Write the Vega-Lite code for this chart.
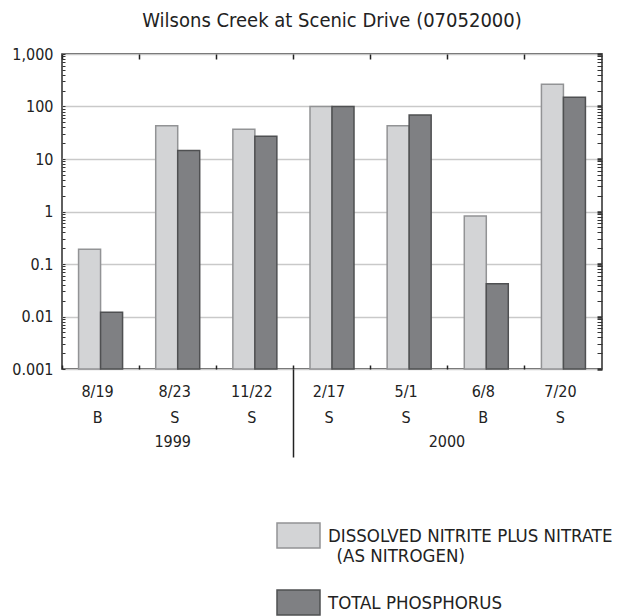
{
  "$schema": "https://vega.github.io/schema/vega-lite/v6.json",
  "width": 540,
  "height": 315,
  "autosize": {"type": "none"},
  "padding": {"left": 62, "top": 54, "right": 15, "bottom": 247},
  "title": {
    "text": "Wilsons Creek at Scenic Drive (07052000)",
    "font": "DejaVu Sans Condensed, Liberation Sans",
    "fontSize": 20,
    "fontWeight": "normal",
    "color": "#222222",
    "anchor": "middle",
    "frame": "group",
    "baseline": "alphabetic",
    "offset": -1
  },
  "config": {
    "font": "DejaVu Sans Condensed, Liberation Sans",
    "view": {"stroke": "#2b2b2b", "strokeWidth": 1.5}
  },
  "data": {
    "values": [
      {"sample": "8/19|B|1999", "param": "DISSOLVED NITRITE PLUS NITRATE (AS NITROGEN)", "value": 0.19},
      {"sample": "8/19|B|1999", "param": "TOTAL PHOSPHORUS", "value": 0.012},
      {"sample": "8/23|S|1999", "param": "DISSOLVED NITRITE PLUS NITRATE (AS NITROGEN)", "value": 43},
      {"sample": "8/23|S|1999", "param": "TOTAL PHOSPHORUS", "value": 14.5},
      {"sample": "11/22|S|1999", "param": "DISSOLVED NITRITE PLUS NITRATE (AS NITROGEN)", "value": 37},
      {"sample": "11/22|S|1999", "param": "TOTAL PHOSPHORUS", "value": 27},
      {"sample": "2/17|S|2000", "param": "DISSOLVED NITRITE PLUS NITRATE (AS NITROGEN)", "value": 100},
      {"sample": "2/17|S|2000", "param": "TOTAL PHOSPHORUS", "value": 100},
      {"sample": "5/1|S|2000", "param": "DISSOLVED NITRITE PLUS NITRATE (AS NITROGEN)", "value": 43},
      {"sample": "5/1|S|2000", "param": "TOTAL PHOSPHORUS", "value": 69},
      {"sample": "6/8|B|2000", "param": "DISSOLVED NITRITE PLUS NITRATE (AS NITROGEN)", "value": 0.82},
      {"sample": "6/8|B|2000", "param": "TOTAL PHOSPHORUS", "value": 0.042},
      {"sample": "7/20|S|2000", "param": "DISSOLVED NITRITE PLUS NITRATE (AS NITROGEN)", "value": 265},
      {"sample": "7/20|S|2000", "param": "TOTAL PHOSPHORUS", "value": 150}
    ]
  },
  "layer": [
    {
      "mark": {"type": "bar", "strokeWidth": 1.5},
      "encoding": {
        "x": {
          "field": "sample", "type": "nominal", "sort": null,
          "scale": {"paddingInner": 0, "paddingOuter": 0},
          "axis": {
            "orient": "bottom", "title": null, "domain": false,
            "labelExpr": "slice(split(datum.label, '|'), 0, 2)",
            "labelAngle": 0, "labelFontSize": 16, "labelColor": "#222222",
            "labelLineHeight": 26, "labelBaseline": "top", "labelPadding": 18,
            "labelOffset": -3,
            "ticks": true, "bandPosition": 0, "tickSize": -4,
            "tickColor": "#222222", "tickWidth": 1.5
          }
        },
        "xOffset": {"field": "param", "type": "nominal", "sort": null, "scale": {"paddingInner": 0, "paddingOuter": 0.753}},
        "y": {
          "field": "value", "type": "quantitative",
          "scale": {"type": "log", "domain": [0.001, 1000], "nice": false},
          "axis": {
            "orient": "left", "title": null, "domain": false,
            "values": [0.001,0.002,0.003,0.004,0.005,0.006,0.007,0.008,0.009,0.01,0.02,0.03,0.04,0.05,0.06,0.07,0.08,0.09,0.1,0.2,0.3,0.4,0.5,0.6,0.7,0.8,0.9,1,2,3,4,5,6,7,8,9,10,20,30,40,50,60,70,80,90,100,200,300,400,500,600,700,800,900,1000],
            "format": ",",
            "labelExpr": "abs(log(datum.value)/LN10 - round(log(datum.value)/LN10)) < 0.001 ? datum.label : ''",
            "labelFontSize": 16, "labelColor": "#222222", "labelPadding": 12,
            "grid": true, "gridColor": "#c9c9c9", "gridWidth": 1.3,
            "gridOpacity": {"condition": {"test": "abs(log(datum.value)/LN10 - round(log(datum.value)/LN10)) < 0.001", "value": 1}, "value": 0},
            "tickSize": -3, "tickColor": "#333333", "tickWidth": 1
          }
        },
        "y2": {"datum": 0.001},
        "fill": {
          "field": "param", "type": "nominal", "sort": null,
          "scale": {"range": ["#d3d4d6", "#7f8083"]},
          "legend": {
            "orient": "none", "legendX": 214, "legendY": 459,
            "title": null, "padding": 0,
            "symbolType": "M-1,-0.58H1V0.58H-1Z", "symbolSize": 1849,
            "symbolStrokeColor": "#7a7a7a", "symbolStrokeWidth": 1.5,
            "labelFont": "DejaVu Sans Condensed, Liberation Sans",
            "labelFontSize": 18.5, "labelColor": "#222222", "labelOffset": 7,
            "labelLimit": 400,
            "labelExpr": "split(replace(datum.label, ' (', '|\u200b\u00a0\u2009('), '|')",
            "labelBaseline": "top", "labelLineHeight": 20,
            "rowPadding": 14,
            "encode": {"labels": {"update": {"dy": {"value": -9}}}}
          }
        },
        "stroke": {
          "field": "param", "type": "nominal", "sort": null,
          "scale": {"range": ["#929395", "#4f5052"]},
          "legend": null
        }
      }
    },
    {
      "mark": {"type": "bar", "opacity": 0},
      "encoding": {
        "x": {
          "field": "sample", "type": "nominal", "sort": null,
          "scale": {"paddingInner": 0, "paddingOuter": 0},
          "axis": {
            "orient": "top", "title": null, "domain": false, "labels": false,
            "ticks": true, "bandPosition": 0, "tickSize": -5,
            "tickColor": "#222222", "tickWidth": 1.5
          }
        },
        "y": {
          "field": "value", "type": "quantitative",
          "scale": {"type": "log", "domain": [0.001, 1000], "nice": false},
          "axis": {
            "orient": "right", "title": null, "domain": false, "labels": false, "grid": false,
            "values": [0.001,0.002,0.003,0.004,0.005,0.006,0.007,0.008,0.009,0.01,0.02,0.03,0.04,0.05,0.06,0.07,0.08,0.09,0.1,0.2,0.3,0.4,0.5,0.6,0.7,0.8,0.9,1,2,3,4,5,6,7,8,9,10,20,30,40,50,60,70,80,90,100,200,300,400,500,600,700,800,900,1000],
            "tickSize": -5, "tickColor": "#333333",
            "tickWidth": {"condition": {"test": "abs(log(datum.value)/LN10 - round(log(datum.value)/LN10)) < 0.001", "value": 2.5}, "value": 1}
          }
        }
      }
    },
    {
      "mark": {"type": "bar", "opacity": 0},
      "encoding": {
        "x": {
          "field": "sample", "type": "nominal", "sort": null,
          "scale": {"paddingInner": 0, "paddingOuter": 0},
          "axis": {
            "orient": "bottom", "title": null, "domain": false, "ticks": false,
            "values": ["8/23|S|1999", "5/1|S|2000"],
            "labelExpr": "split(datum.label, '|')[2]",
            "labelAngle": 0, "labelFontSize": 16, "labelColor": "#222222",
            "labelBaseline": "top", "labelPadding": 64,
            "labelOffset": {"condition": {"test": "datum.value === '5/1|S|2000'", "value": 37.8}, "value": -5}
          }
        },
        "y": {
          "field": "value", "type": "quantitative",
          "scale": {"type": "log", "domain": [0.001, 1000], "nice": false},
          "axis": null
        }
      }
    },
    {
      "mark": {"type": "bar", "opacity": 0},
      "encoding": {
        "x": {
          "field": "sample", "type": "nominal", "sort": null,
          "scale": {"paddingInner": 0, "paddingOuter": 0},
          "axis": {
            "orient": "bottom", "title": null, "domain": false, "labels": false,
            "values": ["11/22|S|1999"],
            "ticks": true, "bandPosition": 1, "tickSize": 88,
            "tickColor": "#222222", "tickWidth": 1.5
          }
        },
        "y": {
          "field": "value", "type": "quantitative",
          "scale": {"type": "log", "domain": [0.001, 1000], "nice": false},
          "axis": null
        }
      }
    }
  ],
  "resolve": {"axis": {"x": "independent", "y": "independent"}}
}
